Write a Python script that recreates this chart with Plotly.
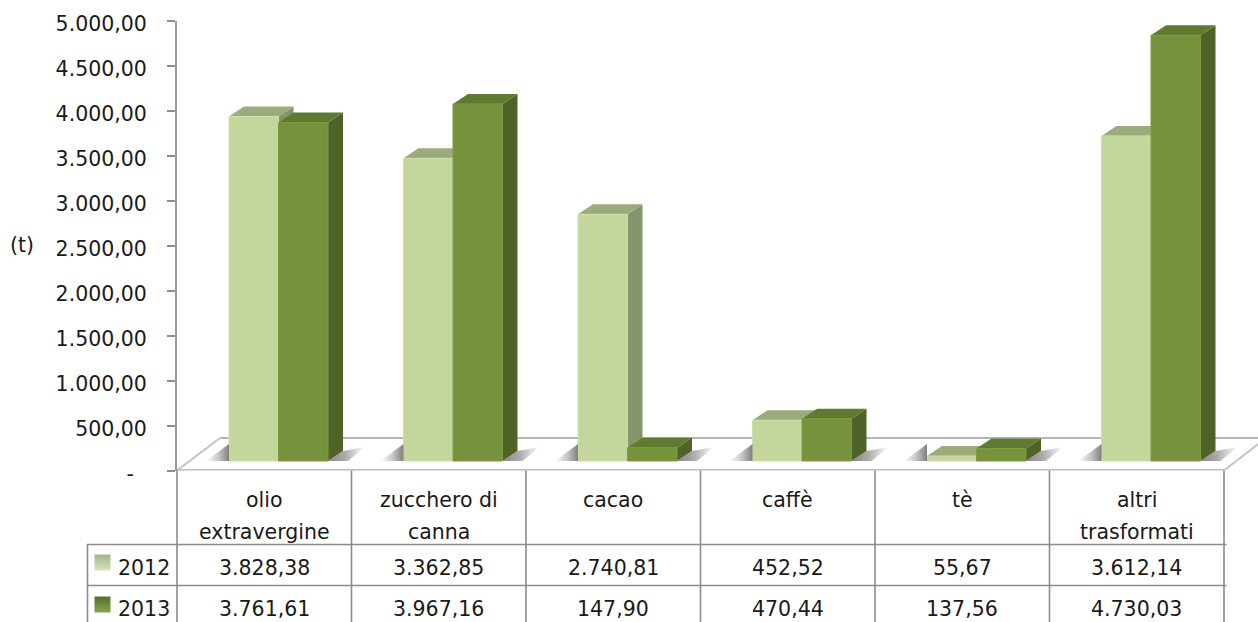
import plotly.graph_objects as go

# ---- data ----
categories = ["olio<br>extravergine", "zucchero di<br>canna", "cacao", "caffè", "tè", "altri<br>trasformati"]
years = ["2012", "2013"]
values_2012 = [3828.38, 3362.85, 2740.81, 452.52, 55.67, 3612.14]
values_2013 = [3761.61, 3967.16, 147.90, 470.44, 137.56, 4730.03]
tick_vals = [0, 500, 1000, 1500, 2000, 2500, 3000, 3500, 4000, 4500, 5000]
tick_text = ["-\u00a0\u00a0", "500,00", "1.000,00", "1.500,00", "2.000,00", "2.500,00",
             "3.000,00", "3.500,00", "4.000,00", "4.500,00", "5.000,00"]
axis_title = "(t)"

# ---- style / layout ----
W, H = 1258, 622
FONT = "DejaVu Sans"
FS = 20.5
TXT = "#1a1a1a"
GRID = "#8e8e8e"
X0, CATW = 177.0, 174.5       # left edge of the plot, width of a category
Y0, YTOP = 470.5, 20.5        # pixel of value 0 and 5000
UNIT = (Y0 - YTOP) / 5000.0
BASE = 9.5 / UNIT             # floor lift of the bars
DX, DY = 15 / CATW, 10 / UNIT # depth of the 3D projection
BAR_W = 49.5 / CATW
OFF = [0.298 + BAR_W / 2, 0.298 + BAR_W * 1.5]
LIGHT = dict(front="#c3d69b", edge="#d0dfae", top="#9bab7b", side="#84956a")
DARK = dict(front="#76923c", edge="#7f9c42", top="#5f7a31", side="#4f6228")


def px(x):
    return x / W


def py(y):
    return 1 - y / H


fig = go.Figure()
shapes = []

# floor
FLOOR_Y = (Y0 - 438) / UNIT
FL, FR = 43 / CATW, 6 + 42 / CATW
shapes.append(dict(type="path", layer="below", xref="x", yref="y",
                   path=f"M 0 0 L 6 0 L {FR} {FLOOR_Y} L {FL} {FLOOR_Y} Z",
                   fillcolor="#ffffff", line=dict(width=0)))
for a, b, c, d, col, w in [(FL, FLOOR_Y, FR, FLOOR_Y, "#b5b5b5", 2),
                           (0, 0, FL, FLOOR_Y, "#c4c4c4", 2),
                           (6, 0, FR, FLOOR_Y, "#c4c4c4", 2),
                           (0, 0, 6, 0, "#b0b0b0", 2.5)]:
    shapes.append(dict(type="line", layer="below", xref="x", yref="y",
                       x0=a, y0=b, x1=c, y1=d, line=dict(color=col, width=w)))

# floor shadows around every bar group
for i in range(6):
    left = i + OFF[0] - BAR_W / 2
    right = i + OFF[1] + BAR_W / 2
    fig.add_trace(go.Scatter(
        x=[left - 23 / CATW, left, left, left - 23 / CATW],
        y=[BASE, BASE, BASE + 17 / UNIT, BASE],
        mode="lines", line=dict(width=0), hoverinfo="skip", showlegend=False, fill="toself",
        fillgradient=dict(type="horizontal", colorscale=[[0, "rgba(120,120,120,0)"], [0.55, "rgba(125,125,125,0.45)"],
                                                         [1, "rgba(120,120,120,0.95)"]])))
    fig.add_trace(go.Scatter(
        x=[right, right + DX, right + 37 / CATW, right + 20 / CATW, right],
        y=[BASE, BASE + DY, BASE + 14 / UNIT, BASE, BASE],
        mode="lines", line=dict(width=0), hoverinfo="skip", showlegend=False, fill="toself",
        fillgradient=dict(type="horizontal", colorscale=[[0, "rgba(120,120,120,0.9)"], [0.45, "rgba(125,125,125,0.65)"],
                                                         [1, "rgba(120,120,120,0)"]])))

# 3D faces (drawn under the front faces)
for s, (vals, pal) in enumerate([(values_2012, LIGHT), (values_2013, DARK)]):
    for i, v in enumerate(vals):
        l = i + OFF[s] - BAR_W / 2
        r = l + BAR_W
        t = BASE + v
        shapes.append(dict(type="path", layer="below", xref="x", yref="y",
                           path=f"M {r} {BASE} L {r + DX} {BASE + DY} L {r + DX} {t + DY} L {r} {t} Z",
                           fillcolor=pal["side"], line=dict(width=0)))
        shapes.append(dict(type="path", layer="below", xref="x", yref="y",
                           path=f"M {l} {t} L {r} {t} L {r + DX} {t + DY} L {l + DX} {t + DY} Z",
                           fillcolor=pal["top"], line=dict(width=0)))

# front faces
for s, (name, vals, pal) in enumerate([(years[0], values_2012, LIGHT), (years[1], values_2013, DARK)]):
    fig.add_trace(go.Bar(x=[i + OFF[s] for i in range(6)], y=vals, base=[BASE] * 6, width=BAR_W, name=name,
                         marker=dict(color=pal["front"], line=dict(color=pal["edge"], width=1)),
                         showlegend=False))

# data table grid
GC = "#8c8c8c"
cols = [X0 + CATW * i for i in range(7)]
for x in cols:
    shapes.append(dict(type="line", xref="paper", yref="paper", x0=px(x), x1=px(x), y0=py(Y0), y1=py(622),
                       line=dict(color=GC, width=1.6)))
shapes.append(dict(type="line", xref="paper", yref="paper", x0=px(87.5), x1=px(87.5), y0=py(544), y1=py(622),
                   line=dict(color=GC, width=1.6)))
for y in (544.5, 585.5):
    shapes.append(dict(type="line", xref="paper", yref="paper", x0=px(87), x1=px(1226.5), y0=py(y), y1=py(y),
                       line=dict(color=GC, width=1.6)))

# table text
ann = []


def label(x, y, text, xanchor="center"):
    ann.append(dict(xref="paper", yref="paper", x=px(x), y=py(y), text=text, showarrow=False,
                    xanchor=xanchor, yanchor="middle", font=dict(family=FONT, size=FS, color=TXT)))


def fmt(v):
    return f"{v:,.2f}".replace(",", "#").replace(".", ",").replace("#", ".")


for i, c in enumerate(categories):
    cx = X0 + CATW * (i + 0.5)
    parts = c.split("<br>")
    label(cx, 500, parts[0])
    if len(parts) > 1:
        label(cx, 532, parts[1])
    label(cx, 568, fmt(values_2012[i]))
    label(cx, 609, fmt(values_2013[i]))
label(144, 568, years[0])
label(144, 609, years[1])
label(22, 245, axis_title)

# legend keys in the table
fig.add_trace(go.Scatter(x=[102.5, 102.5], y=[562.5, 604.5], mode="markers", xaxis="x2", yaxis="y2",
                         hoverinfo="skip", showlegend=False, cliponaxis=False,
                         marker=dict(symbol="square", size=16, color=["#a3b585", "#556d2a"],
                                     gradient=dict(type="vertical", color=["#d8e3bf", "#86a648"]),
                                     line=dict(width=0))))

fig.update_layout(
    width=W, height=H, margin=dict(l=0, r=0, t=0, b=0, autoexpand=False), autosize=False,
    paper_bgcolor="white", plot_bgcolor="rgba(0,0,0,0)",
    barmode="overlay", shapes=shapes, annotations=ann,
    font=dict(family=FONT, size=FS, color=TXT),
    xaxis=dict(domain=[X0 / W, 1], range=[0, (W - X0) / CATW], visible=False, anchor="y"),
    yaxis=dict(domain=[py(Y0), py(YTOP)], range=[0, 5000], tickmode="array", tickvals=tick_vals, ticktext=tick_text,
               showgrid=False, zeroline=False, showline=True, linecolor="#9a9a9a", linewidth=2,
               ticks="outside", ticklen=8, tickwidth=1.5, tickcolor=GRID, ticklabelshift=3, ticklabelstandoff=16,
               tickfont=dict(family=FONT, size=FS, color=TXT), anchor="x"),
    xaxis2=dict(domain=[0, 1], range=[0, W], visible=False, anchor="y2"),
    yaxis2=dict(domain=[0, 1], range=[H, 0], visible=False, anchor="x2"),
    showlegend=False,
)

fig.write_html("out.html", config={"displayModeBar": False},
               post_script="document.body.style.margin='0';document.body.style.overflow='hidden';")
